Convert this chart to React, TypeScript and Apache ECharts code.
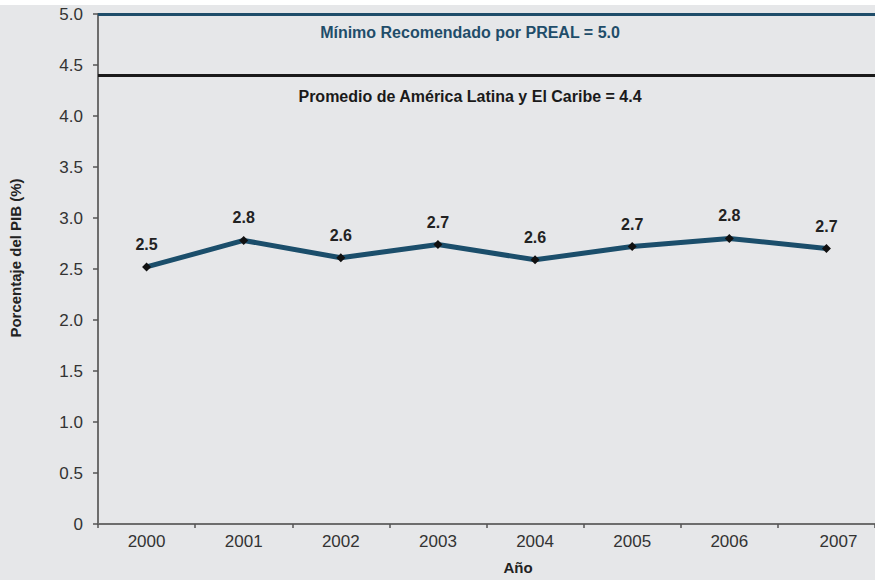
import React, { useEffect, useRef } from "react";
import * as echarts from "echarts";

const years = ["2000", "2001", "2002", "2003", "2004", "2005", "2006", "2007"];
const gdpShare = [2.52, 2.78, 2.61, 2.74, 2.59, 2.72, 2.8, 2.7];
const yTickLabels = ["0", "0.5", "1.0", "1.5", "2.0", "2.5", "3.0", "3.5", "4.0", "4.5", "5.0"];
const prealMin = 5.0;
const latamAvg = 4.4;
const prealLabel = "Mínimo Recomendado por PREAL = 5.0";
const latamLabel = "Promedio de América Latina y El Caribe = 4.4";

const FONT = "'Liberation Sans', Arial, Helvetica, sans-serif";

export default function App() {
  const ref = useRef<HTMLDivElement>(null);
  useEffect(() => {
    if (!ref.current) return;
    const chart = echarts.init(ref.current, undefined, {
      renderer: "svg",
      width: 875,
      height: 580,
    });
    chart.setOption({
      animation: false,
      backgroundColor: "#e6e7e9",
      textStyle: { fontFamily: FONT },
      graphic: [
        {
          type: "rect",
          left: 0,
          top: 0,
          shape: { width: 875, height: 5 },
          style: { fill: "#ffffff" },
          silent: true,
        },
      ],
      grid: { left: 95, right: -11, top: 14, bottom: 52, containLabel: false },
      xAxis: {
        type: "category",
        data: years,
        boundaryGap: true,
        name: "Año",
        nameLocation: "middle",
        nameGap: 36,
        nameTextStyle: {
          fontFamily: FONT,
          fontWeight: "bold",
          fontSize: 15,
          color: "#222",
          padding: [0, 0, 0, 63],
        },
        axisLine: { show: true, lineStyle: { color: "#6d6d6d", width: 2 } },
        axisTick: { show: true, interval: 0, length: 4, lineStyle: { color: "#555", width: 1.5 } },
        axisLabel: {
          color: "#333",
          fontSize: 17,
          margin: 9,
          fontFamily: FONT,
          interval: 0,
          formatter: (v: string, i: number) =>
            i === years.length - 1 ? "{last|" + v + "}" : v,
          rich: {
            last: { padding: [0, 0, 0, 24], fontSize: 17, color: "#333", fontFamily: FONT },
          },
        },
        splitLine: { show: false },
      },
      yAxis: {
        type: "value",
        min: 0,
        max: 5,
        interval: 0.5,
        name: "Porcentaje del PIB (%)",
        nameLocation: "middle",
        nameRotate: 90,
        nameGap: 75,
        nameTextStyle: {
          fontFamily: FONT,
          fontWeight: "bold",
          fontSize: 15,
          color: "#222",
          padding: [0, 0, 0, 22],
        },
        axisLine: { show: true, lineStyle: { color: "#6d6d6d", width: 2 } },
        axisTick: { show: true, length: 5, lineStyle: { color: "#555", width: 1.5 } },
        axisLabel: {
          color: "#333",
          fontSize: 17,
          margin: 15,
          fontFamily: FONT,
          formatter: (v: number) => yTickLabels[Math.round(v * 2)] ?? String(v),
        },
        splitLine: { show: false },
      },
      series: [
        {
          type: "line",
          data: gdpShare,
          symbol: "diamond",
          symbolSize: 9,
          itemStyle: { color: "#111" },
          lineStyle: { color: "#1b4e6b", width: 5 },
          label: {
            show: true,
            position: "top",
            distance: 10,
            fontFamily: FONT,
            fontWeight: "bold",
            fontSize: 16,
            color: "#222",
            formatter: (p: any) => Number(p.value).toFixed(1),
          },
          markLine: {
            silent: true,
            symbol: "none",
            animation: false,
            data: [
              {
                yAxis: prealMin,
                lineStyle: { color: "#1f4d6a", width: 3, type: "solid" },
                label: {
                  show: true,
                  formatter: prealLabel,
                  position: "insideMiddleBottom",
                  distance: 10,
                  padding: [0, 33, 0, 0],
                  fontFamily: FONT,
                  fontWeight: "bold",
                  fontSize: 16,
                  color: "#1f4d6a",
                },
              },
              {
                yAxis: latamAvg,
                lineStyle: { color: "#1a1a1a", width: 3, type: "solid" },
                label: {
                  show: true,
                  formatter: latamLabel,
                  position: "insideMiddleBottom",
                  distance: 13,
                  padding: [0, 33, 0, 0],
                  fontFamily: FONT,
                  fontWeight: "bold",
                  fontSize: 16,
                  color: "#1a1a1a",
                },
              },
            ],
          },
        },
      ],
    });
    return () => chart.dispose();
  }, []);
  return (
    <div
      ref={ref}
      style={{ position: "fixed", left: 0, top: 0, width: 875, height: 580 }}
    />
  );
}
